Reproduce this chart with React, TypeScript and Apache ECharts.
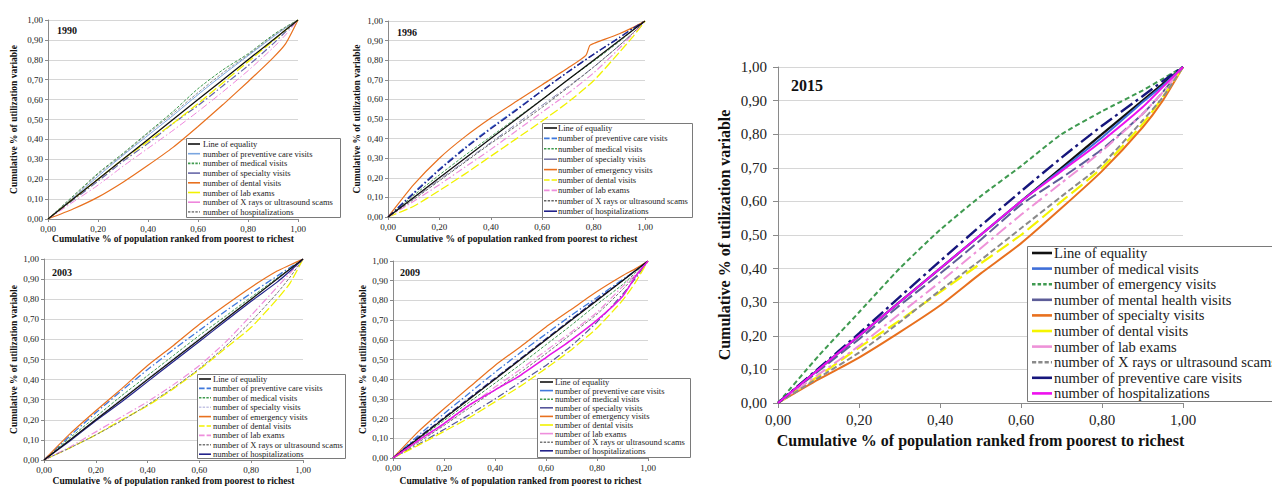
import React, { useEffect, useRef } from "react";
import * as echarts from "echarts";

// ---------- data ----------
const X = [0, 0.1, 0.2, 0.3, 0.4, 0.5, 0.6, 0.7, 0.8, 0.9, 0.95, 1];
const EQUALITY = [0, 0.1, 0.2, 0.3, 0.4, 0.5, 0.6, 0.7, 0.8, 0.9, 0.95, 1];
const X_TICK_LABELS = ["0,00", "0,20", "0,40", "0,60", "0,80", "1,00"];
const Y_TICK_LABELS = ["0,00", "0,10", "0,20", "0,30", "0,40", "0,50", "0,60", "0,70", "0,80", "0,90", "1,00"];

// 1990
const P90_PREVENTIVE = [0, 0.105, 0.215, 0.32, 0.42, 0.52, 0.625, 0.725, 0.82, 0.915, 0.96, 1];
const P90_MEDICAL = [0, 0.115, 0.23, 0.33, 0.435, 0.54, 0.655, 0.75, 0.83, 0.925, 0.965, 1];
const P90_SPECIALTY = [0, 0.095, 0.19, 0.29, 0.38, 0.48, 0.57, 0.67, 0.77, 0.88, 0.94, 1];
const P90_DENTAL = [0, 0.05, 0.11, 0.185, 0.27, 0.36, 0.465, 0.575, 0.69, 0.81, 0.88, 1];
const P90_LAB = [0, 0.1, 0.2, 0.3, 0.39, 0.48, 0.58, 0.685, 0.79, 0.895, 0.95, 1];
const P90_XRAY = [0, 0.085, 0.17, 0.265, 0.355, 0.445, 0.54, 0.64, 0.745, 0.86, 0.925, 1];
const P90_HOSP = [0, 0.11, 0.225, 0.325, 0.43, 0.53, 0.635, 0.735, 0.825, 0.92, 0.962, 1];

// 1996
const P96_PREVENTIVE = [0, 0.125, 0.245, 0.355, 0.455, 0.55, 0.645, 0.74, 0.83, 0.915, 0.96, 1];
const P96_MEDICAL = [0, 0.11, 0.215, 0.315, 0.41, 0.505, 0.6, 0.7, 0.795, 0.895, 0.95, 1];
const P96_SPECIALTY = [0, 0.095, 0.19, 0.285, 0.38, 0.475, 0.57, 0.665, 0.765, 0.875, 0.935, 1];
const X96_EMERGENCY = [0, 0.1, 0.2, 0.3, 0.4, 0.5, 0.6, 0.7, 0.77, 0.785, 0.8, 0.9, 0.95, 1];
const P96_EMERGENCY = [0, 0.165, 0.3, 0.41, 0.505, 0.59, 0.675, 0.76, 0.825, 0.875, 0.885, 0.935, 0.965, 1];
const P96_DENTAL = [0, 0.055, 0.135, 0.22, 0.31, 0.4, 0.49, 0.585, 0.695, 0.84, 0.915, 1];
const P96_LAB = [0, 0.08, 0.165, 0.255, 0.345, 0.44, 0.535, 0.63, 0.735, 0.86, 0.93, 1];
const P96_XRAY = [0, 0.09, 0.185, 0.28, 0.375, 0.465, 0.56, 0.66, 0.765, 0.875, 0.935, 1];
const P96_HOSP = [0, 0.12, 0.24, 0.35, 0.45, 0.545, 0.645, 0.74, 0.83, 0.915, 0.96, 1];

// 2003
const P03_PREVENTIVE = [0, 0.12, 0.235, 0.345, 0.45, 0.55, 0.645, 0.74, 0.83, 0.915, 0.958, 1];
const P03_MEDICAL = [0, 0.11, 0.215, 0.32, 0.42, 0.52, 0.62, 0.715, 0.81, 0.905, 0.952, 1];
const P03_SPECIALTY = [0, 0.1, 0.205, 0.305, 0.405, 0.505, 0.605, 0.705, 0.8, 0.9, 0.95, 1];
const P03_EMERGENCY = [0, 0.13, 0.245, 0.355, 0.47, 0.57, 0.675, 0.77, 0.86, 0.94, 0.97, 1];
const P03_DENTAL = [0, 0.06, 0.125, 0.2, 0.27, 0.355, 0.45, 0.555, 0.66, 0.8, 0.88, 1];
const P03_LAB = [0, 0.065, 0.14, 0.215, 0.29, 0.375, 0.47, 0.585, 0.72, 0.86, 0.93, 1];
const P03_XRAY = [0, 0.06, 0.125, 0.195, 0.275, 0.36, 0.455, 0.565, 0.69, 0.83, 0.91, 1];
const P03_HOSP = [0, 0.095, 0.195, 0.29, 0.39, 0.49, 0.59, 0.69, 0.79, 0.885, 0.94, 1];

// 2009
const P09_PREVENTIVE = [0, 0.115, 0.225, 0.33, 0.435, 0.535, 0.63, 0.725, 0.815, 0.905, 0.95, 1];
const P09_MEDICAL = [0, 0.095, 0.19, 0.285, 0.38, 0.475, 0.575, 0.675, 0.78, 0.88, 0.94, 1];
const P09_SPECIALTY = [0, 0.07, 0.145, 0.22, 0.3, 0.385, 0.47, 0.57, 0.69, 0.83, 0.91, 1];
const P09_EMERGENCY = [0, 0.135, 0.25, 0.36, 0.47, 0.565, 0.665, 0.755, 0.845, 0.925, 0.96, 1];
const P09_DENTAL = [0, 0.065, 0.135, 0.205, 0.285, 0.365, 0.455, 0.55, 0.66, 0.8, 0.89, 1];
const P09_LAB = [0, 0.085, 0.17, 0.265, 0.36, 0.45, 0.545, 0.64, 0.74, 0.87, 0.93, 1];
const P09_XRAY = [0, 0.08, 0.165, 0.255, 0.345, 0.435, 0.53, 0.63, 0.73, 0.855, 0.925, 1];
const P09_HOSP = [0, 0.105, 0.205, 0.305, 0.405, 0.505, 0.605, 0.705, 0.805, 0.9, 0.95, 1];
const P09_HOSP_MAGENTA = [0, 0.09, 0.175, 0.27, 0.345, 0.42, 0.51, 0.6, 0.7, 0.82, 0.92, 1];

// 2015
const P15_MEDICAL = [0, 0.1, 0.2, 0.3, 0.4, 0.5, 0.6, 0.695, 0.79, 0.895, 0.945, 1];
const P15_EMERGENCY = [0, 0.14, 0.27, 0.4, 0.515, 0.615, 0.705, 0.8, 0.868, 0.93, 0.965, 1];
const P15_MENTAL = [0, 0.095, 0.19, 0.29, 0.385, 0.485, 0.59, 0.67, 0.755, 0.86, 0.925, 1];
const P15_SPECIALTY = [0, 0.07, 0.135, 0.21, 0.29, 0.385, 0.475, 0.58, 0.69, 0.82, 0.9, 1];
const P15_DENTAL = [0, 0.08, 0.165, 0.245, 0.33, 0.415, 0.5, 0.6, 0.7, 0.83, 0.91, 1];
const P15_LAB = [0, 0.085, 0.17, 0.265, 0.36, 0.46, 0.56, 0.655, 0.75, 0.86, 0.925, 1];
const P15_XRAY = [0, 0.075, 0.15, 0.24, 0.335, 0.425, 0.52, 0.615, 0.71, 0.84, 0.91, 1];
const P15_PREVENTIVE = [0, 0.103, 0.207, 0.315, 0.422, 0.527, 0.63, 0.73, 0.825, 0.913, 0.958, 1];
const P15_HOSP = [0, 0.1, 0.2, 0.3, 0.4, 0.5, 0.6, 0.69, 0.78, 0.88, 0.94, 1];

const N_EQ = "Line of equality";
const N_PREV = "number of preventive care visits";
const N_MED = "number of medical visits";
const N_SPEC = "number of specialty visits";
const N_DENT = "number of dental visits";
const N_LAB = "number of lab exams";
const N_XRAY = "number of X rays or ultrasound scams";
const N_HOSP = "number of hospitalizations";
const N_EMER = "number of emergency visits";
const N_MENT = "number of mental health visits";

// ---------- styles ----------
const FONT = "'Liberation Serif', 'Times New Roman', serif";
type Sty = { color: string; dash: number[] | "solid"; width: number; legendDash?: number[] | "solid" };
const S = (color: string, dash: number[] | "solid", width = 1, legendDash?: number[] | "solid"): Sty => ({ color, dash, width, legendDash });
const DD = [7, 2.5, 1.5, 2.5];
const LD = [7, 2.5];
const SD = [3, 1.6];

type SeriesDef = { name: string; x?: number[]; y: number[]; sty: Sty; inLegend?: boolean };
type Panel = {
  year: string;
  grid: { left: number; top: number; width: number; height: number };
  big: boolean;
  yNameGap: number;
  xNameGap: number;
  yearPos: [number, number];
  legend: { left: number; top: number; width: number; height: number; row0: number; step: number; lx1: number; lx2: number; tx: number };
  series: SeriesDef[];
};

const PANELS: Panel[] = [
  {
    year: "1990",
    grid: { left: 48, top: 20, width: 250, height: 199 },
    big: false, yNameGap: 29, xNameGap: 15, yearPos: [57, 30],
    legend: { left: 186, top: 138, width: 154, height: 79, row0: 144, step: 9.7, lx1: 188, lx2: 200, tx: 203 },
    series: [
      { name: N_PREV, y: P90_PREVENTIVE, sty: S("#7aa6e0", "solid") },
      { name: N_MED, y: P90_MEDICAL, sty: S("#3f9a4e", SD) },
      { name: N_SPEC, y: P90_SPECIALTY, sty: S("#6767a8", DD, 1.2, "solid") },
      { name: N_DENT, y: P90_DENTAL, sty: S("#e8701e", "solid", 1.2) },
      { name: N_LAB, y: P90_LAB, sty: S("#f2f200", [9, 3], 1.3, "solid") },
      { name: N_XRAY, y: P90_XRAY, sty: S("#ee86dc", DD, 1, "solid") },
      { name: N_HOSP, y: P90_HOSP, sty: S("#8c8c8c", SD) },
      { name: N_EQ, y: EQUALITY, sty: S("#111111", "solid", 1.3) },
    ],
  },
  {
    year: "1996",
    grid: { left: 388, top: 21, width: 257, height: 196 },
    big: false, yNameGap: 26, xNameGap: 17, yearPos: [397, 32],
    legend: { left: 542, top: 123, width: 150, height: 94, row0: 128, step: 10.4, lx1: 544, lx2: 557, tx: 558 },
    series: [
      { name: N_PREV, y: P96_PREVENTIVE, sty: S("#3f78dc", DD, 1.3, LD) },
      { name: N_MED, y: P96_MEDICAL, sty: S("#3f9a4e", SD) },
      { name: N_SPEC, y: P96_SPECIALTY, sty: S("#7a7aa8", DD, 1, "solid") },
      { name: N_EMER, x: X96_EMERGENCY, y: P96_EMERGENCY, sty: S("#e8701e", "solid", 1.2) },
      { name: N_DENT, y: P96_DENTAL, sty: S("#f2f200", [9, 3], 1.3, LD) },
      { name: N_LAB, y: P96_LAB, sty: S("#ee8edc", DD, 1.2, LD) },
      { name: N_XRAY, y: P96_XRAY, sty: S("#666666", SD) },
      { name: N_HOSP, y: P96_HOSP, sty: S("#22228a", DD, 1.4, "solid") },
      { name: N_EQ, y: EQUALITY, sty: S("#111111", "solid", 1.3) },
    ],
  },
  {
    year: "2003",
    grid: { left: 44, top: 259, width: 259, height: 201 },
    big: false, yNameGap: 23, xNameGap: 16, yearPos: [52, 272],
    legend: { left: 197, top: 374, width: 148, height: 84, row0: 379, step: 9.4, lx1: 199, lx2: 211, tx: 213 },
    series: [
      { name: N_PREV, y: P03_PREVENTIVE, sty: S("#3f78dc", DD, 1.3, LD) },
      { name: N_MED, y: P03_MEDICAL, sty: S("#3f9a4e", SD) },
      { name: N_SPEC, y: P03_SPECIALTY, sty: S("#c4c4e4", SD) },
      { name: N_EMER, y: P03_EMERGENCY, sty: S("#e8701e", "solid", 1.2) },
      { name: N_DENT, y: P03_DENTAL, sty: S("#f2f200", [9, 3], 1.3, LD) },
      { name: N_LAB, y: P03_LAB, sty: S("#ee8edc", DD, 1.2, LD) },
      { name: N_XRAY, y: P03_XRAY, sty: S("#777777", SD) },
      { name: N_HOSP, y: P03_HOSP, sty: S("#22228a", "solid", 1.2) },
      { name: N_EQ, y: EQUALITY, sty: S("#111111", "solid", 1.3) },
    ],
  },
  {
    year: "2009",
    grid: { left: 393, top: 261, width: 255, height: 197 },
    big: false, yNameGap: 25, xNameGap: 18, yearPos: [400, 272],
    legend: { left: 537, top: 378, width: 153, height: 79, row0: 382, step: 8.6, lx1: 540, lx2: 553, tx: 555 },
    series: [
      { name: N_PREV, y: P09_PREVENTIVE, sty: S("#3f78dc", DD, 1.3, "solid") },
      { name: N_MED, y: P09_MEDICAL, sty: S("#3f9a4e", SD) },
      { name: N_SPEC, y: P09_SPECIALTY, sty: S("#55559a", DD, 1.2, "solid") },
      { name: N_EMER, y: P09_EMERGENCY, sty: S("#e8701e", "solid", 1.2) },
      { name: N_DENT, y: P09_DENTAL, sty: S("#f2f200", [9, 3], 1.3, "solid") },
      { name: N_LAB, y: P09_LAB, sty: S("#ee8edc", DD, 1.2, "solid") },
      { name: N_XRAY, y: P09_XRAY, sty: S("#777777", SD) },
      { name: N_HOSP, y: P09_HOSP, sty: S("#22228a", LD, 1.2, "solid") },
      { name: N_EQ, y: EQUALITY, sty: S("#111111", "solid", 1.3) },
      { name: N_HOSP + " ", y: P09_HOSP_MAGENTA, sty: S("#e614e6", "solid", 1.5), inLegend: false },
    ],
  },
  {
    year: "2015",
    grid: { left: 778, top: 67, width: 405, height: 336 },
    big: true, yNameGap: 46, xNameGap: 29, yearPos: [791, 85],
    legend: { left: 1027, top: 246, width: 290, height: 155, row0: 253, step: 15.6, lx1: 1032, lx2: 1052, tx: 1054 },
    series: [
      { name: N_EQ, y: EQUALITY, sty: S("#111111", "solid", 2.2) },
      { name: N_MED, y: P15_MEDICAL, sty: S("#3f6fd8", "solid", 2) },
      { name: N_EMER, y: P15_EMERGENCY, sty: S("#3f9a50", [5, 3], 2) },
      { name: N_MENT, y: P15_MENTAL, sty: S("#5d5d98", [12, 4], 2, "solid") },
      { name: N_SPEC, y: P15_SPECIALTY, sty: S("#e8701e", "solid", 2) },
      { name: N_DENT, y: P15_DENTAL, sty: S("#f5f500", [14, 5], 2.2, "solid") },
      { name: N_LAB, y: P15_LAB, sty: S("#ee92d8", [12, 4, 3, 4], 2, "solid") },
      { name: N_XRAY, y: P15_XRAY, sty: S("#8a8a8a", [6, 3], 2) },
      { name: N_PREV, y: P15_PREVENTIVE, sty: S("#16167c", [14, 4, 3, 4], 2.4, "solid") },
      { name: N_HOSP, y: P15_HOSP, sty: S("#ee10ee", "solid", 2) },
    ],
  },
];

function buildOption() {
  const grid: any[] = [];
  const xAxis: any[] = [];
  const yAxis: any[] = [];
  const series: any[] = [];
  const elements: any[] = [];

  PANELS.forEach((p, gi) => {
    const tickFont = p.big ? 15 : 9;
    const nameFont = p.big ? 16 : 9.5;
    const tickLen = p.big ? 5 : 3;
    grid.push({ left: p.grid.left, top: p.grid.top, width: p.grid.width, height: p.grid.height, containLabel: false });
    xAxis.push({
      type: "value", gridIndex: gi, min: 0, max: 1, interval: 0.2,
      name: "Cumulative % of population ranked from poorest to richest",
      nameLocation: "middle", nameGap: p.xNameGap,
      nameTextStyle: { fontFamily: FONT, fontWeight: "bold", fontSize: nameFont, color: "#111" },
      axisLine: { show: true, onZero: false, lineStyle: { color: "#8a8a8a", width: 1 } },
      axisTick: { show: true, length: tickLen, lineStyle: { color: "#8a8a8a" } },
      axisLabel: {
        fontFamily: FONT, fontSize: tickFont, color: "#222", margin: p.big ? 9 : 5,
        formatter: (v: number) => X_TICK_LABELS[Math.round(v * 5)] ?? "",
      },
      splitLine: { show: false },
    });
    yAxis.push({
      type: "value", gridIndex: gi, min: 0, max: 1, interval: 0.1,
      name: "Cumulative % of utilization variable",
      nameLocation: "middle", nameGap: p.yNameGap,
      nameTextStyle: { fontFamily: FONT, fontWeight: "bold", fontSize: nameFont, color: "#111" },
      axisLine: { show: true, onZero: false, lineStyle: { color: "#8a8a8a", width: 1 } },
      axisTick: { show: true, length: tickLen, lineStyle: { color: "#8a8a8a" } },
      axisLabel: {
        fontFamily: FONT, fontSize: tickFont, color: "#222", margin: p.big ? 11 : 5,
        formatter: (v: number) => Y_TICK_LABELS[Math.round(v * 10)] ?? "",
      },
      splitLine: { show: true, lineStyle: { color: "#d6d6d6", width: 1 } },
    });

    p.series.forEach((s) => {
      const xs = s.x ?? X;
      series.push({
        type: "line",
        name: p.year + " " + s.name,
        xAxisIndex: gi, yAxisIndex: gi,
        data: s.y.map((v, i) => [xs[i], v]),
        showSymbol: false, symbol: "none",
        smooth: s.name === N_EQ ? false : 0.2,
        lineStyle: { color: s.sty.color, width: s.sty.width, type: s.sty.dash === "solid" ? "solid" : s.sty.dash },
        emphasis: { disabled: true },
        silent: true,
      });
    });

    // year label
    elements.push({
      type: "text", x: p.yearPos[0], y: p.yearPos[1], z: 60,
      style: {
        text: p.year, fontFamily: FONT, fontWeight: "bold", fontSize: p.big ? 16 : 10,
        fill: "#111", verticalAlign: "middle", textVerticalAlign: "middle",
      },
    });

    // legend box
    const L = p.legend;
    elements.push({
      type: "rect", z: 70,
      shape: { x: L.left + 0.5, y: L.top + 0.5, width: L.width, height: L.height },
      style: { fill: "#ffffff", stroke: "#7a7a7a", lineWidth: 1 },
    });
    const legendItems = p.series.filter((s) => s.inLegend !== false);
    const ordered = [...legendItems.filter((s) => s.name === N_EQ), ...legendItems.filter((s) => s.name !== N_EQ)];
    ordered.forEach((s, i) => {
      const cy = L.row0 + i * L.step;
      const ld = s.sty.legendDash ?? s.sty.dash;
      const lw = p.big ? 2.6 : 1.6;
      elements.push({
        type: "line", z: 71,
        shape: { x1: L.lx1, y1: cy, x2: L.lx2, y2: cy },
        style: { stroke: s.sty.color, lineWidth: lw, lineDash: ld === "solid" ? null : ld.map((d) => d * (p.big ? 0.7 : 0.8)) },
      });
      elements.push({
        type: "text", x: L.tx, y: cy, z: 71,
        style: {
          text: s.name, fontFamily: FONT, fontSize: p.big ? 14.6 : 8.5, fill: "#222",
          verticalAlign: "middle", textVerticalAlign: "middle",
        },
      });
    });
  });

  return {
    animation: false,
    backgroundColor: "#ffffff",
    grid, xAxis, yAxis, series,
    graphic: { elements },
  };
}

export default function App() {
  const ref = useRef<HTMLDivElement>(null);
  useEffect(() => {
    if (!ref.current) return;
    const chart = echarts.init(ref.current, undefined, { renderer: "svg" });
    chart.setOption(buildOption() as any);
    return () => chart.dispose();
  }, []);
  return <div ref={ref} style={{ position: "fixed", left: 0, top: 0, width: 1272, height: 487, background: "#fff" }} />;
}
